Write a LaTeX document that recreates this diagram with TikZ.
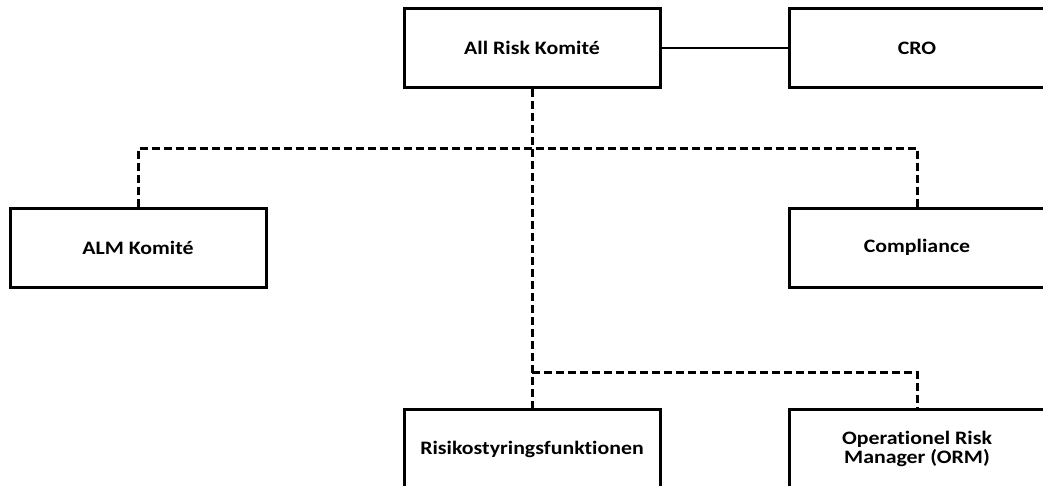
\documentclass[tikz,border=0pt]{standalone}
\usepackage{fontspec}
\setmainfont{Carlito}[FakeStretch=1.15,Ligatures={NoCommon}]
\begin{document}
\begin{tikzpicture}[x=1pt,y=-1pt,
  box/.style={draw=black,line width=3pt,fill=white,minimum width=256pt,minimum height=79pt,inner sep=0pt,align=center,font=\fontsize{19}{21.5}\selectfont\bfseries},
  dashline/.style={draw=black,line width=3pt,dash pattern=on 8pt off 4pt},
  solidline/.style={draw=black,line width=2.5pt}]
\useasboundingbox (0,0) rectangle (1043,485);
\node[box] (ark) at (532,48) {All Risk Komité};
\node[box] (cro) at (917,48) {CRO};
\node[box] (alm) at (138,247.5) {ALM Komité};
\node[box] (comp) at (917,247.5) {Compliance};
\node[box] (risk) at (532,449) {Risikostyringsfunktionen};
\node[box] (orm) at (917,449) {Operationel Risk\\[-2pt]Manager (ORM)};
\coordinate (h1) at (532,148);
\coordinate (h2) at (532,372);
\draw[solidline] (ark) -- (cro);
\draw[dashline] (alm.north) |- (h1) -| (comp.north);
\draw[dashline] (ark.south) -- (risk.north);
\draw[dashline] (h2) -| (orm.north);
\end{tikzpicture}
\end{document}
